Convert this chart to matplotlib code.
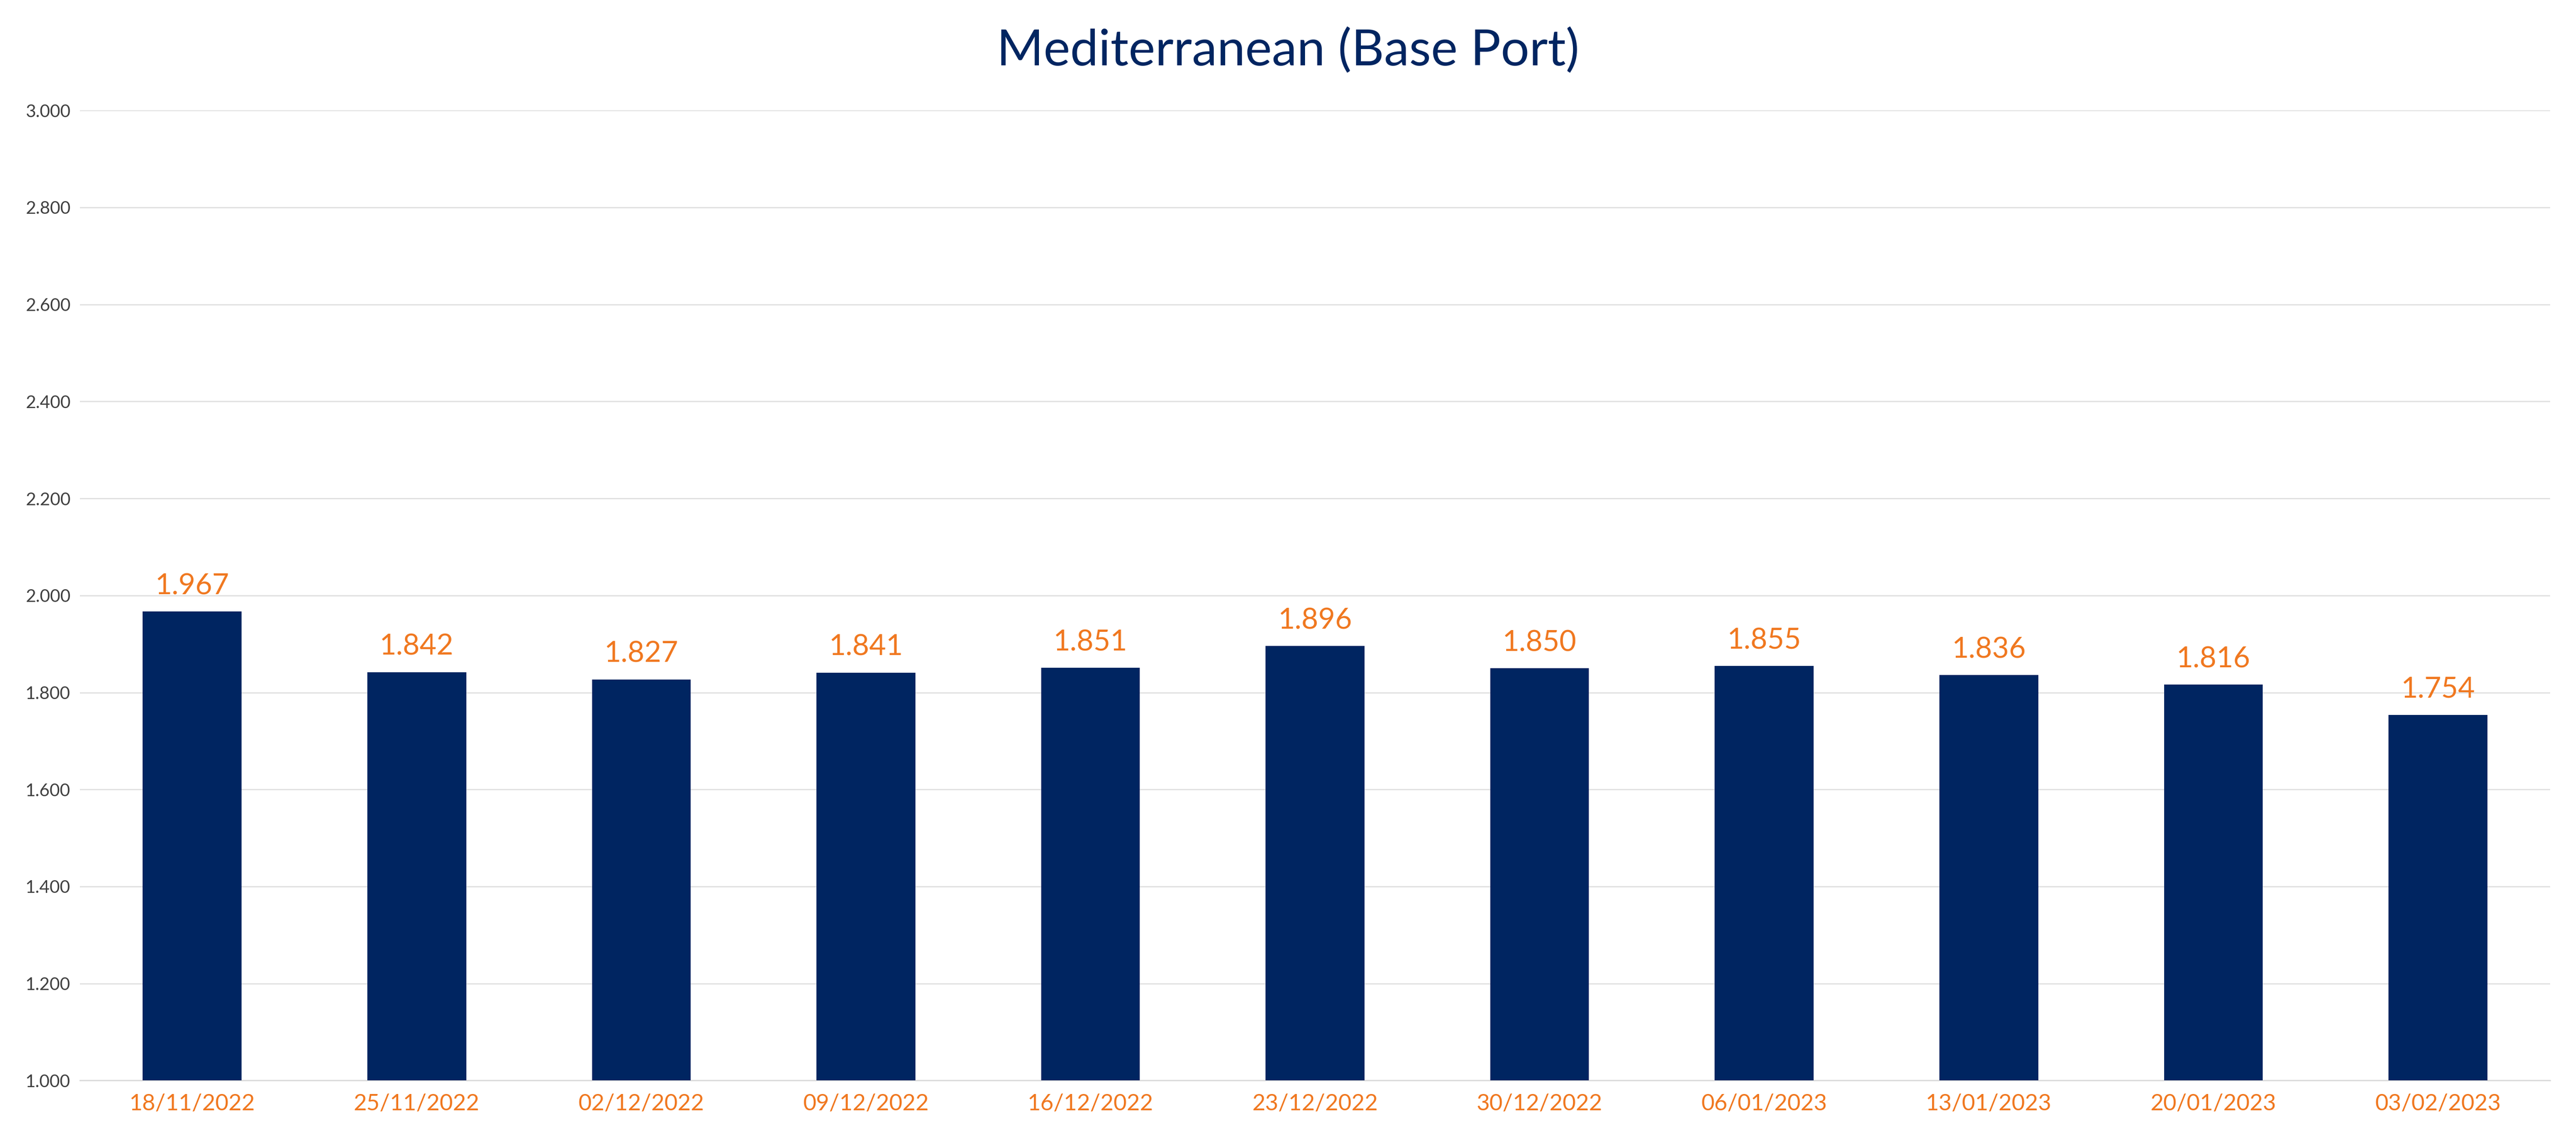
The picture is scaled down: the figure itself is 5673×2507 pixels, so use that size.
import matplotlib
matplotlib.use("Agg")
import matplotlib.pyplot as plt
from matplotlib.ticker import FuncFormatter

dates = ["18/11/2022","25/11/2022","02/12/2022","09/12/2022","16/12/2022","23/12/2022",
         "30/12/2022","06/01/2023","13/01/2023","20/01/2023","03/02/2023"]
values = [1967,1842,1827,1841,1851,1896,1850,1855,1836,1816,1754]
yticks = [1000,1200,1400,1600,1800,2000,2200,2400,2600,2800,3000]

plt.rcParams["font.family"] = "Lato"
fig = plt.figure(figsize=(56.73,25.07), dpi=100)
ax = fig.add_axes([0.031,0.0505,0.959,0.8525])
x = range(len(dates))
ax.bar(x, values, width=0.44, color="#002561", zorder=3)
for i,v in zip(x, values):
    ax.text(i, v+25, f"{v/1000:.3f}", ha="center", va="bottom", color="#F07820", fontsize=46)
ax.set_ylim(1000,3000)
ax.set_xlim(-0.5,len(dates)-0.5)
ax.set_yticks(yticks)
ax.yaxis.set_major_formatter(FuncFormatter(lambda v,p: f"{v/1000:.3f}"))
ax.set_xticks(list(x))
ax.set_xticklabels(dates, color="#F07820", fontsize=36)
ax.tick_params(axis="y", labelsize=28, labelcolor="#404040", length=0, pad=15)
ax.tick_params(axis="x", length=0, pad=20)
ax.grid(axis="y", color="#E0E0E0", linewidth=2, zorder=0)
for s in ["top","right","left"]:
    ax.spines[s].set_visible(False)
ax.spines["bottom"].set_color("#D9D9D9")
ax.spines["bottom"].set_linewidth(2)
fig.text(0.5,0.955,"Mediterranean (Base Port)", ha="center", va="center", color="#002561", fontsize=80)
fig.savefig("out.png", dpi=100, facecolor="white")
